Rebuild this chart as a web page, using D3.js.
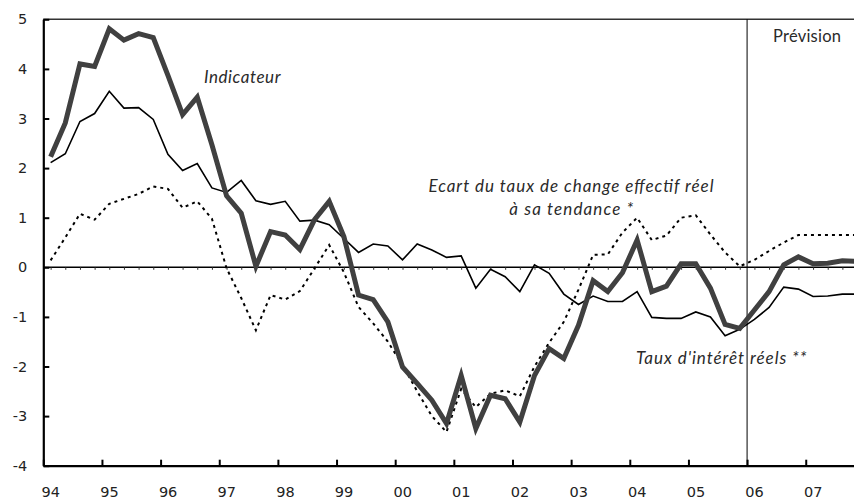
<!DOCTYPE html>
<html lang="fr">
<head>
    <meta charset="utf-8">
    <script src="https://d3js.org/d3.v7.min.js"></script>
    <title>Indicateur</title>
    <style>
        body { margin: 0; background: #fff; }
        .tick text { font-family: "DejaVu Sans", sans-serif; font-size: 14.5px; fill: #222; }
        .lbl { font-family: Lato, "Open Sans", sans-serif; fill: #2a2a2a; }
    </style>
</head>
<body>
<svg id="chart" width="854" height="501"></svg>

<script>

    // quarterly periods, 1994T1 .. 2007T4
    let years = d3.range(1994, 2008);
    let quarters = [];
    years.forEach(yr => { [1, 2, 3, 4].forEach(q => quarters.push({year: yr, q: q})); });

    let yearTicks = ["94", "95", "96", "97", "98", "99", "00", "01", "02", "03", "04", "05", "06", "07"];
    let yTicks = [-4, -3, -2, -1, 0, 1, 2, 3, 4, 5];
    let forecastStart = 2006;

    // thick line
    let indicateur = [2.23, 2.91, 4.10, 4.05, 4.81, 4.58, 4.71, 4.63,
        3.87, 3.08, 3.43, 2.47, 1.44, 1.09, 0.02, 0.72,
        0.65, 0.36, 0.96, 1.33, 0.62, -0.56, -0.65, -1.10,
        -2.01, -2.34, -2.68, -3.15, -2.18, -3.25, -2.58, -2.65,
        -3.12, -2.18, -1.64, -1.84, -1.17, -0.27, -0.49, -0.11,
        0.55, -0.49, -0.38, 0.07, 0.07, -0.42, -1.15, -1.23,
        -0.86, -0.49, 0.05, 0.21, 0.07, 0.08, 0.13, 0.12];

    // thin line
    let tauxReels = [2.11, 2.29, 2.94, 3.10, 3.55, 3.21, 3.22, 2.98,
        2.28, 1.95, 2.09, 1.60, 1.51, 1.75, 1.34, 1.27,
        1.33, 0.93, 0.95, 0.86, 0.58, 0.30, 0.47, 0.43,
        0.15, 0.47, 0.35, 0.20, 0.23, -0.42, -0.04, -0.19,
        -0.49, 0.05, -0.12, -0.54, -0.75, -0.58, -0.69, -0.69,
        -0.49, -1.01, -1.03, -1.03, -0.90, -1.00, -1.38, -1.25,
        -1.05, -0.81, -0.40, -0.44, -0.59, -0.58, -0.54, -0.54];

    // dotted line
    let ecartChange = [0.14, 0.60, 1.08, 0.96, 1.28, 1.38, 1.48, 1.63,
        1.58, 1.20, 1.33, 0.98, -0.02, -0.62, -1.27, -0.56,
        -0.65, -0.48, -0.02, 0.45, -0.10, -0.80, -1.13, -1.50,
        -1.97, -2.50, -3.00, -3.32, -2.45, -2.82, -2.55, -2.48,
        -2.60, -2.00, -1.52, -1.10, -0.45, 0.25, 0.26, 0.70,
        1.00, 0.55, 0.64, 1.00, 1.05, 0.66, 0.30, 0.02,
        0.15, 0.33, 0.50, 0.65, 0.65, 0.65, 0.65, 0.65];

    let svg = d3.select("#chart");
    let plotLeft = 43.3, plotRight = 854, plotTop = 19.3, plotBottom = 465.7;

    let x = d3.scaleLinear().domain([1994, 2007.823]).range([plotLeft, plotRight]);
    let y = d3.scaleLinear().domain([-4, 5]).range([plotBottom, plotTop]);

    let xq = d => d.year + (d.q - 0.5) / 4;

    // top border
    svg.append("line")
        .attr("x1", plotLeft).attr("x2", plotRight)
        .attr("y1", y(5)).attr("y2", y(5))
        .attr("stroke", "#333").attr("stroke-width", 1.6);

    // forecast separator
    svg.append("line")
        .attr("x1", x(forecastStart)).attr("x2", x(forecastStart))
        .attr("y1", y(5)).attr("y2", y(-4))
        .attr("stroke", "#000").attr("stroke-width", 1);

    // zero line with small quarter marks
    svg.append("line")
        .attr("x1", plotLeft).attr("x2", plotRight)
        .attr("y1", y(0)).attr("y2", y(0))
        .attr("stroke", "#000").attr("stroke-width", 1.5);

    let qAxis = svg.append("g")
        .attr("transform", "translate(0," + y(0) + ")")
        .call(d3.axisBottom(x).tickValues(quarters.map(xq)).tickSize(2.5).tickFormat(""));
    qAxis.select(".domain").remove();
    qAxis.selectAll("line").attr("stroke", "#333");

    // axes
    let yAxis = svg.append("g")
        .attr("transform", "translate(" + plotLeft + ",0)")
        .call(d3.axisLeft(y).tickValues(yTicks).tickSizeInner(-6).tickSizeOuter(0).tickPadding(16)
            .tickFormat(d => String(d)));
    yAxis.select(".domain").attr("stroke", "#000").attr("stroke-width", 2.2);
    yAxis.selectAll(".tick line").attr("stroke-width", 2);

    let xAxis = svg.append("g")
        .attr("transform", "translate(0," + plotBottom + ")")
        .call(d3.axisBottom(x).tickValues(years).tickSizeInner(-6).tickSizeOuter(0).tickPadding(21)
            .tickFormat((d, i) => yearTicks[i]));
    xAxis.select(".domain").attr("stroke", "#000").attr("stroke-width", 2.2);
    xAxis.selectAll(".tick line").attr("stroke-width", 2);
    xAxis.selectAll(".tick text").attr("dx", 7);

    // series
    svg.append("clipPath").attr("id", "plot")
        .append("rect").attr("x", plotLeft).attr("y", plotTop)
        .attr("width", plotRight - plotLeft).attr("height", plotBottom - plotTop);

    let line = d3.line().x(d => x(d.t)).y(d => y(d.v));
    let pts = arr => arr.map((v, i) => ({t: xq(quarters[i]), v: v}));

    let g = svg.append("g").attr("clip-path", "url(#plot)");

    g.append("path")
        .attr("d", line(pts(ecartChange)))
        .attr("fill", "none").attr("stroke", "#000")
        .attr("stroke-width", 2).attr("stroke-dasharray", "3,4");

    g.append("path")
        .attr("d", line(pts(tauxReels)))
        .attr("fill", "none").attr("stroke", "#000")
        .attr("stroke-width", 1.6).attr("stroke-linejoin", "miter");

    g.append("path")
        .attr("d", line(pts(indicateur)))
        .attr("fill", "none").attr("stroke", "#404040")
        .attr("stroke-width", 5).attr("stroke-linejoin", "miter");

    // labels
    function label(txt, xPos, yPos, width, italic) {
        svg.append("text").attr("class", "lbl")
            .attr("x", xPos).attr("y", yPos)
            .attr("textLength", width).attr("lengthAdjust", "spacing")
            .style("font-size", italic ? "17px" : "16.5px")
            .style("font-style", italic ? "italic" : "normal")
            .text(txt);
    }

    label("Prévision", 773, 42, 68, false);
    label("Indicateur", 204, 83, 76.5, true);
    label("Ecart du taux de change effectif réel", 428.5, 191.5, 285, true);
    label("à sa tendance *", 509.3, 215, 124, true);
    label("Taux d'intérêt réels **", 636, 363.5, 170.5, true);

</script>
</body>
</html>
